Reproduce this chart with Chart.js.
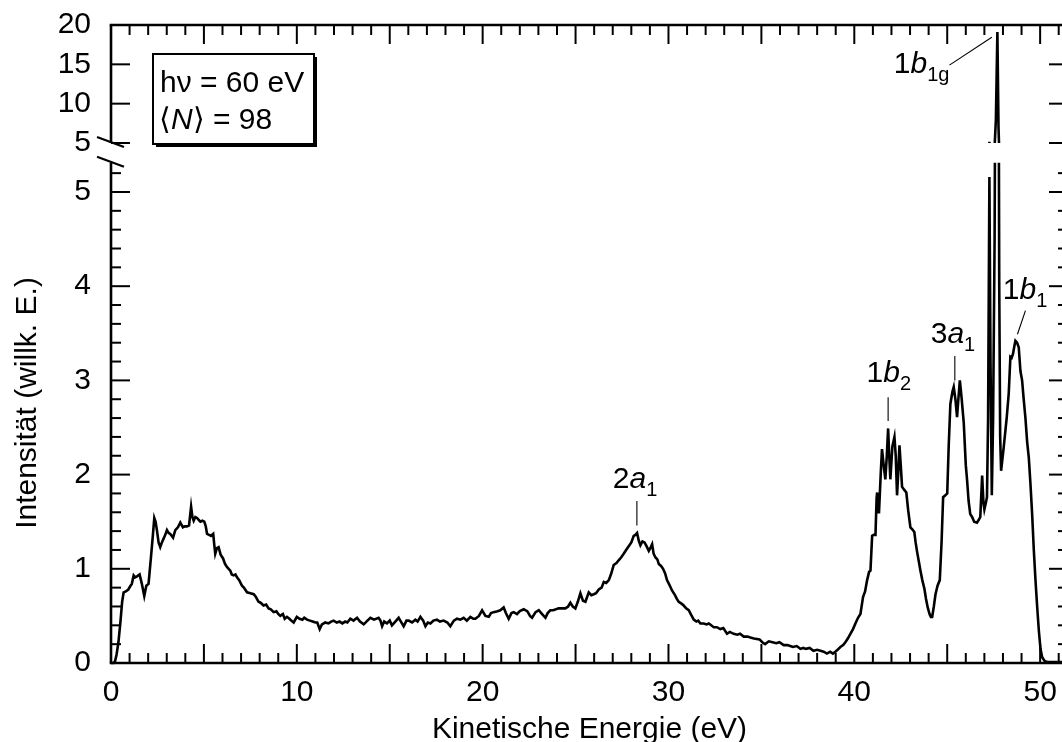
<!DOCTYPE html>
<html><head><meta charset="utf-8">
<script src="https://cdn.jsdelivr.net/npm/chart.js@4.4.1/dist/chart.umd.min.js"></script>
<style>html,body{margin:0;padding:0;background:#fff;overflow:hidden;width:1062px;height:742px;}canvas{display:block;}</style>
</head><body>
<canvas id="c" width="1070" height="742"></canvas>
<script>
// ---- data ----
const energy = [
0,0.14,0.22,0.3,0.4,0.5,0.6,0.68,0.8,0.93,1.05,1.12,1.22,1.3,1.4,1.54,1.66,1.79,1.9,2.02,2.15,2.26,2.33,2.4,2.47,2.56,2.65,2.74,2.83,2.92,
3.01,3.1,3.19,3.34,3.46,3.6,3.73,3.87,3.98,4.09,4.2,4.31,4.38,4.45,4.54,4.63,4.72,4.81,4.92,5.02,5.1,5.17,5.28,5.38,5.5,5.56,5.61,5.7,5.79,5.9,
6.03,6.14,6.24,6.33,6.42,6.5,6.6,6.7,6.78,6.9,7.05,7.15,7.32,7.5,7.68,7.8,7.94,8.05,8.21,8.35,8.48,8.6,8.75,8.9,9.0,9.11,9.25,9.35,9.47,9.6,
9.7,9.83,10.0,10.15,10.3,10.4,10.55,10.7,10.85,11.0,11.1,11.23,11.35,11.53,11.7,11.85,11.98,12.15,12.3,12.45,12.6,12.72,12.88,
13.05,13.24,13.4,13.6,13.8,13.96,14.15,14.4,14.5,14.59,14.7,14.85,15.0,15.12,15.3,15.48,15.6,15.75,15.9,16.02,16.2,16.38,16.5,16.65,16.8,16.92,
17.05,17.19,17.35,17.54,17.7,17.9,18.1,18.26,18.45,18.62,18.8,18.98,19.15,19.34,19.5,19.61,19.8,19.97,20.15,20.33,20.45,20.59,20.8,20.95,21.13,
21.25,21.4,21.55,21.67,21.85,22.0,22.21,22.4,22.55,22.66,22.85,23.02,23.2,23.38,23.5,23.64,23.8,24.09,24.3,24.45,24.6,24.72,24.85,24.99,25.12,
25.26,25.4,25.53,25.71,25.85,25.98,26.1,26.25,26.4,26.52,26.65,26.79,26.92,27.05,27.2,27.32,27.45,27.59,27.72,27.86,28.0,28.13,28.22,28.31,28.4,
28.49,28.6,28.71,28.82,28.94,29.05,29.12,29.2,29.3,29.4,29.48,29.6,29.71,29.82,29.92,30.05,30.19,30.35,30.45,30.55,30.7,30.82,30.95,31.09,31.2,
31.36,31.5,31.6,31.72,31.9,32.05,32.17,32.3,32.44,32.6,32.79,32.95,33.15,33.3,33.51,33.7,33.85,34.05,34.25,34.41,
34.6,34.9,35.05,35.2,35.4,35.6,35.8,35.97,36.2,36.4,36.55,36.7,36.9,37.1,37.25,37.4,37.6,37.8,38.0,38.18,38.35,38.53,38.7,38.85,38.98,39.1,
39.25,39.4,39.52,39.65,39.79,39.93,40.06,40.2,40.33,40.47,40.58,40.69,40.8,40.87,40.96,41.05,41.14,41.2,41.23,41.28,41.33,41.42,41.49,41.58,41.67,
41.75,41.82,41.88,41.94,42.05,42.16,42.23,42.3,42.36,42.43,42.5,42.57,42.68,42.8,42.9,43.02,43.12,43.23,43.3,43.38,43.47,43.56,43.66,43.77,43.86,
43.95,44.05,44.12,44.19,44.28,44.37,44.48,44.6,44.7,44.78,44.9,45.0,45.08,45.17,45.28,45.35,45.44,45.53,45.6,45.68,45.78,45.89,46.0,46.07,46.15,
46.24,46.34,46.45,46.6,46.7,46.78,46.88,46.95,47.0,47.08,47.14,47.2,47.27,47.33,47.4,47.47,47.55,47.62,47.7,47.76,47.8,47.85,47.9,48.04,48.2,
48.31,48.4,48.47,48.54,48.6,48.67,48.76,48.85,48.94,49.03,49.12,49.21,49.3,49.39,49.48,49.57,49.66,49.75,49.84,49.93,50.02,50.11,50.25,50.4,50.7,
51.0,51.5
];
const intensity = [
0,0,0.02,0.09,0.22,0.42,0.65,0.75,0.76,0.78,0.82,0.84,0.93,0.91,0.92,0.94,0.84,0.71,0.82,0.84,1.12,1.37,1.54,1.5,1.41,1.28,1.23,1.28,1.32,1.36,
1.41,1.38,1.37,1.33,1.41,1.44,1.49,1.44,1.45,1.45,1.46,1.66,1.55,1.51,1.55,1.54,1.52,1.5,1.51,1.5,1.45,1.37,1.36,1.35,1.37,1.25,1.16,1.22,1.23,1.15,
1.11,1.05,1.02,1.0,0.98,0.94,0.93,0.94,0.91,0.88,0.82,0.8,0.75,0.74,0.73,0.7,0.65,0.64,0.61,0.62,0.58,0.57,0.54,0.55,0.52,0.5,0.52,0.47,0.49,0.47,
0.45,0.43,0.49,0.47,0.46,0.48,0.46,0.45,0.44,0.43,0.43,0.36,0.41,0.43,0.42,0.44,0.45,0.43,0.44,0.42,0.44,0.43,0.47,
0.45,0.48,0.44,0.41,0.45,0.48,0.46,0.48,0.45,0.39,0.44,0.42,0.45,0.4,0.44,0.48,0.44,0.39,0.45,0.45,0.43,0.46,0.44,0.49,0.45,0.39,
0.43,0.42,0.45,0.46,0.44,0.45,0.43,0.39,0.45,0.47,0.46,0.48,0.45,0.49,0.47,0.47,0.5,0.56,0.5,0.49,0.53,0.54,0.55,0.56,0.59,
0.53,0.47,0.53,0.54,0.52,0.55,0.57,0.55,0.5,0.48,0.54,0.56,0.52,0.48,0.53,0.56,0.56,0.58,0.58,0.58,0.6,0.64,0.6,0.58,0.65,
0.74,0.66,0.65,0.75,0.72,0.73,0.74,0.78,0.8,0.86,0.85,0.88,0.95,1.04,1.06,1.09,1.12,1.16,1.2,1.24,1.28,1.35,1.36,1.38,1.3,
1.25,1.29,1.28,1.24,1.19,1.23,1.26,1.16,1.12,1.1,1.05,1.03,1.0,0.95,0.88,0.83,0.77,0.72,0.68,0.65,0.63,0.61,0.58,0.56,0.52,
0.46,0.44,0.45,0.42,0.42,0.41,0.42,0.4,0.38,0.38,0.36,0.37,0.31,0.33,0.31,0.3,0.31,0.28,0.28,0.27,
0.26,0.25,0.22,0.2,0.23,0.22,0.21,0.22,0.19,0.19,0.18,0.17,0.18,0.15,0.16,0.15,0.16,0.13,0.14,0.13,0.12,0.1,0.12,0.1,0.12,0.14,
0.17,0.19,0.22,0.26,0.31,0.36,0.42,0.48,0.52,0.7,0.76,0.88,0.97,0.98,1.35,1.36,1.36,1.75,1.81,1.6,1.6,2.0,2.27,2.1,1.95,
2.2,2.49,2.2,1.95,2.3,2.4,2.2,1.78,2.0,2.31,2.1,1.87,1.84,1.81,1.62,1.44,1.42,1.39,1.28,1.18,1.08,0.98,0.88,0.79,0.68,
0.59,0.52,0.49,0.49,0.6,0.73,0.82,0.88,1.3,1.76,1.78,1.8,2.3,2.75,2.88,2.93,2.8,2.61,2.8,3.0,2.8,2.55,2.1,1.94,1.72,
1.58,1.55,1.5,1.49,1.52,1.55,1.99,1.7,1.63,1.7,1.76,2.6,5.16,3.2,1.78,2.6,4.5,8.0,19.1,7.0,4.0,2.4,2.04,2.29,2.6,
2.86,3.25,3.24,3.28,3.35,3.42,3.4,3.35,3.1,3.0,2.79,2.6,2.35,2.18,1.9,1.58,1.2,0.88,0.6,0.345,0.15,0.06,0.02,0.01,0.01,
0.01,0.01
];
const xTickLabels = [0, 10, 20, 30, 40, 50];
const yTickLabelsLower = [0, 1, 2, 3, 4, 5];
const yTickLabelsUpper = [5, 10, 15, 20];
const peakNames = [['2','a','1'], ['1','b','2'], ['3','a','1'], ['1','b','1'], ['1','b','1g']];
const infoLines = ['h\u03bd = 60 eV', '\u27e8N\u27e9 = 98'];

// ---- layout constants ----
const FONT = "'Liberation Sans', Arial, Helvetica, sans-serif";
const LOWER_CUT = 5.31;   // top of the lower (linear) panel
const AREA_TOP = 25, AREA_BOTTOM = 663;
let padTop = AREA_TOP, xAxisHeight = 742 - AREA_BOTTOM;

const points = energy.map((e, i) => ({x: e, y: intensity[i]}));

const panelClip = {
  id: 'panelClip',
  beforeDatasetDraw(chart, args) {
    const ds = chart.data.datasets[args.index];
    const a = chart.chartArea, ctx = chart.ctx;
    let top, bottom;
    if (ds.yAxisID === 'y') { top = chart.scales.y.getPixelForValue(LOWER_CUT); bottom = a.bottom + 3; }
    else { top = a.top - 3; bottom = chart.scales.y2.bottom; }
    ctx.save();
    ctx.beginPath();
    ctx.rect(a.left, top, a.right - a.left, bottom - top);
    ctx.clip();
  },
  afterDatasetDraw(chart) { chart.ctx.restore(); }
};

function drawRich(ctx, parts, cx, baseY) {
  // parts: [normal, italic, subscript]
  const fonts = ['30px ' + FONT, 'italic 30px ' + FONT, '20px ' + FONT];
  const offs = [0, 0, 8];
  let w = 0;
  const ws = parts.map((t, i) => { ctx.font = fonts[i]; const m = ctx.measureText(t).width; w += m; return m; });
  let x = cx - w / 2;
  ctx.textAlign = 'left'; ctx.textBaseline = 'alphabetic';
  parts.forEach((t, i) => { ctx.font = fonts[i]; ctx.fillText(t, x, baseY + offs[i]); x += ws[i]; });
}

const framePlugin = {
  id: 'frame',
  afterDraw(chart) {
    const ctx = chart.ctx, a = chart.chartArea;
    const xs = chart.scales.x, yl = chart.scales.y, yu = chart.scales.y2;
    const cutPx = yl.getPixelForValue(LOWER_CUT);
    const upBottom = yu.getPixelForValue(5);
    const line = (x1, y1, x2, y2) => { ctx.beginPath(); ctx.moveTo(x1, y1); ctx.lineTo(x2, y2); ctx.stroke(); };
    ctx.save();
    ctx.strokeStyle = '#000'; ctx.fillStyle = '#000'; ctx.lineCap = 'butt';
    const MAJ = 19, MIN = 10;
    ctx.lineWidth = 2;
    for (let k = 0; k <= Math.floor(xs.max); k++) {
      const p = xs.getPixelForValue(k), L = (k % 5 === 0) ? MAJ : MIN;
      line(p, a.bottom, p, a.bottom - L);
      line(p, a.top, p, a.top + L);
    }
    for (let k = 0; k <= 26; k++) {
      const p = yl.getPixelForValue(k * 0.2), L = (k % 5 === 0) ? MAJ : MIN;
      line(a.left, p, a.left + L, p);
      line(a.right, p, a.right - L, p);
    }
    for (const v of [5, 10, 15]) {
      const p = yu.getPixelForValue(v);
      line(a.left, p, a.left + MAJ, p);
      line(a.right, p, a.right - MAJ, p);
    }
    // frame
    ctx.lineWidth = 2.6;
    line(a.left - 1.3, a.top, a.right, a.top);
    line(a.left - 1.3, a.bottom, a.right, a.bottom);
    line(a.left, a.top, a.left, upBottom);
    line(a.left, cutPx, a.left, a.bottom);
    line(a.right, a.top, a.right, upBottom);
    line(a.right, cutPx, a.right, a.bottom);
    // break marks
    ctx.lineWidth = 2.2;
    line(a.left - 14, upBottom - 6, a.left + 13, upBottom + 4);
    line(a.left - 14, cutPx - 6, a.left + 13, cutPx + 4);

    // peak labels and pointers
    const notes = [
      {ax: yl, tx: 28.2, ty: 1.86, l: [28.3, 1.72, 28.3, 1.46]},
      {ax: yl, tx: 41.86, ty: 2.98, l: [41.82, 2.82, 41.82, 2.57]},
      {ax: yl, tx: 45.31, ty: 3.40, l: [45.41, 3.26, 45.41, 3.0]},
      {ax: yl, tx: 49.19, ty: 3.86, l: [49.21, 3.74, 48.78, 3.49]},
      {ax: yu, tx: 43.62, ty: 13.9, l: [45.12, 14.9, 47.40, 18.44]}
    ];
    ctx.lineWidth = 1.1;
    notes.forEach((n, i) => {
      drawRich(ctx, peakNames[i], xs.getPixelForValue(n.tx), n.ax.getPixelForValue(n.ty));
      line(xs.getPixelForValue(n.l[0]), n.ax.getPixelForValue(n.l[1]), xs.getPixelForValue(n.l[2]), n.ax.getPixelForValue(n.l[3]));
    });

    // info box
    const bx = a.left + 42, by = a.top + 29, bw = 161, bh = 90;
    ctx.fillStyle = '#000';
    ctx.fillRect(bx + 3, by + 3, bw, bh);
    ctx.fillStyle = '#fff';
    ctx.fillRect(bx, by, bw, bh);
    ctx.lineWidth = 2;
    ctx.strokeRect(bx, by, bw, bh);
    ctx.fillStyle = '#000';
    ctx.textAlign = 'left'; ctx.textBaseline = 'alphabetic';
    ctx.font = '30px ' + FONT;
    ctx.fillText(infoLines[0], bx + 7, by + 38);
    const s = infoLines[1];
    let x = bx + 6;
    const segs = [[s[0], false], [s[1], true], [s.slice(2), false]];
    segs.forEach(([t, it]) => {
      ctx.font = (it ? 'italic ' : '') + '30px ' + FONT;
      ctx.fillText(t, x, by + 75);
      x += ctx.measureText(t).width;
    });
    ctx.restore();
  }
};

function noPad(s) { s.paddingTop = 0; s.paddingBottom = 0; s.paddingLeft = 0; s.paddingRight = 0; }

const tickFont = {family: FONT, size: 30};
const chart = new Chart(document.getElementById('c'), {
  type: 'line',
  data: {
    datasets: [
      {data: points, xAxisID: 'x', yAxisID: 'y', borderColor: '#000', borderWidth: 2.6, pointRadius: 0, tension: 0, fill: false, clip: false},
      {data: points, xAxisID: 'x', yAxisID: 'y2', borderColor: '#000', borderWidth: 2.6, pointRadius: 0, tension: 0, fill: false, clip: false}
    ]
  },
  options: {
    responsive: false, animation: false, devicePixelRatio: 1,
    layout: {padding: {left: 0, right: 2, top: padTop, bottom: 0}},
    plugins: {legend: {display: false}, tooltip: {enabled: false}},
    scales: {
      x: {
        type: 'linear', position: 'bottom', min: 0, max: 51.5,
        grid: {display: false, drawTicks: false}, border: {display: false},
        afterBuildTicks(s) { s.ticks = xTickLabels.map(v => ({value: v})); },
        ticks: {padding: 12, color: '#000', font: tickFont, maxRotation: 0, autoSkip: false},
        title: {display: true, text: 'Kinetische Energie (eV)', color: '#000', font: tickFont, padding: {top: 0, bottom: -6}},
        afterFit(s) { noPad(s); s.height = xAxisHeight; }
      },
      y: {
        type: 'linear', position: 'left', stack: 'intens', stackWeight: 520, min: 0, max: 5.52,
        grid: {display: false, drawTicks: false}, border: {display: false},
        afterBuildTicks(s) { s.ticks = yTickLabelsLower.map(v => ({value: v})); },
        ticks: {padding: 20, color: '#000', font: tickFont, autoSkip: false},
        title: {display: true, text: 'Intensität (willk. E.)', color: '#000', font: tickFont, padding: {top: 10, bottom: 0}},
        afterFit(s) { noPad(s); s.width = 111; }
      },
      y2: {
        type: 'linear', position: 'left', stack: 'intens', stackWeight: 118, min: 5, max: 20,
        grid: {display: false, drawTicks: false}, border: {display: false},
        afterBuildTicks(s) { s.ticks = yTickLabelsUpper.map(v => ({value: v})); },
        ticks: {padding: 20, color: '#000', font: tickFont, autoSkip: false},
        afterFit(s) { noPad(s); s.width = 111; }
      }
    }
  },
  plugins: [panelClip, framePlugin]
});
// make sure the plot area lands where the reference has it
for (let i = 0; i < 3; i++) {
  const a = chart.chartArea;
  const dt = AREA_TOP - a.top, db = AREA_BOTTOM - a.bottom;
  if (Math.abs(dt) < 0.5 && Math.abs(db) < 0.5) break;
  padTop += dt; xAxisHeight -= db;
  chart.options.layout.padding.top = padTop;
  chart.update('none');
}
</script>
</body></html>
